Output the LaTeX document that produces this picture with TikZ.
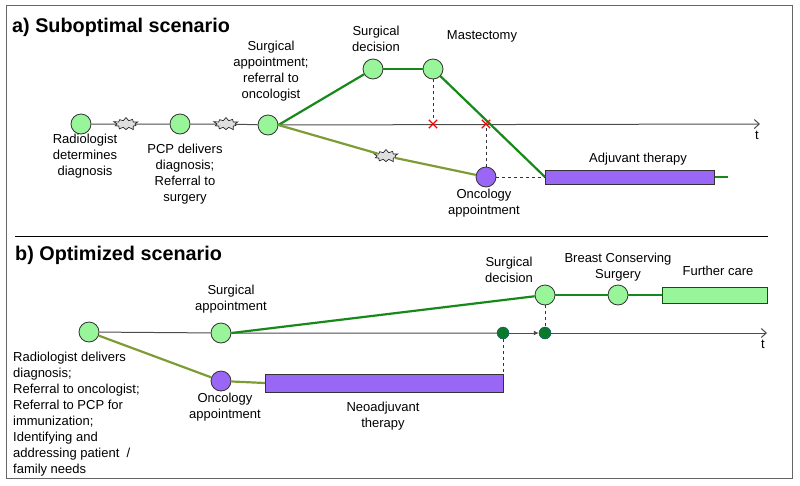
\documentclass[tikz,border=0pt]{standalone}
\usepackage{fontspec}
\setmainfont{Liberation Sans}
\usetikzlibrary{shapes.symbols,shapes.misc,arrows.meta}
\definecolor{lgreen}{HTML}{99F599}
\definecolor{dgreen}{HTML}{17891A}
\definecolor{olive}{HTML}{7E9C35}
\definecolor{purp}{HTML}{9966F5}
\definecolor{dotc}{HTML}{0A7A2A}
\begin{document}
\begin{tikzpicture}[x=1pt,y=-1pt,
  font=\fontsize{13}{16}\selectfont,
  ev/.style={circle,draw=black!80,fill=lgreen,minimum size=20pt,inner sep=0pt,line width=0.8pt},
  evp/.style={circle,draw=black!80,fill=purp,minimum size=20pt,inner sep=0pt,line width=0.8pt},
  smalldot/.style={circle,draw=blue!40!dgreen,fill=dotc,minimum size=12pt,inner sep=0pt},
  burst/.style={starburst,starburst points=10,starburst point height=4pt,draw=black!85,fill=gray!25,minimum width=26pt,minimum height=15pt,inner sep=0pt,line width=0.7pt},
  lbl/.style={align=center,inner sep=0pt},
  axis/.style={draw=black!70,line width=1pt},
  gline/.style={draw=dgreen,line width=2.2pt},
  oline/.style={draw=olive,line width=2.2pt},
  dashline/.style={draw=black!80,dashed,line width=0.8pt},
  xmark/.style={cross out,draw=red,line width=1.3pt,minimum size=7pt,inner sep=0pt},
  title/.style={font=\fontsize{19.8}{23}\selectfont\bfseries,anchor=base west,inner sep=0pt}]
\useasboundingbox (0,0) rectangle (800,485);
\draw[black!60,line width=0.8pt] (6,5) rectangle (792,478);
\draw[black,line width=0.8pt] (15,236) -- (768,236);

% ---------- a) ----------
\node[title] (ta) at (12,32) {a) Suboptimal scenario};
\coordinate (aend) at (760,124);
\node[ev] (a1) at (81,124) {};
\node[ev] (a2) at (180,124) {};
\node[ev] (a3) at (268,125) {};
\node[burst] (b1) at (126,124) {};
\node[burst] (b2) at (226,124) {};
\draw[axis] (a1) -- (b1) -- (a2) -- (b2) -- (a3);
\draw[axis,-{Straight Barb[length=5pt,width=9pt]}] (a3) -- (aend);
\node[anchor=north] (t1) at (757,128) {t};

\node[ev] (sd) at (373,69) {};
\node[ev] (ma) at (433,69) {};
\node[draw=black!80,fill=purp,minimum width=169pt,minimum height=14pt,inner sep=0pt,anchor=west,line width=0.8pt] (adj) at (545,177) {};
\coordinate (adjend) at (728,177);
\draw[gline] (a3.east) -- (sd);
\draw[gline] (sd) -- (ma);
\draw[gline] (ma) -- (adj.west);
\draw[gline] (adj.east) -- (adjend);
\node[evp] (onc) at (486,177) {};
\node[burst] (b3) at (386,156) {};
\draw[oline] (a3.east) -- (b3) -- (onc);
\node[xmark] (x1) at (433,124) {};
\node[xmark] (x2) at (486,124) {};
\draw[dashline] (ma) -- (x1);
\draw[dashline] (onc) -- (x2);
\draw[dashline] (onc) -- (adj.west);

\node[lbl,anchor=north] (l1) at (85,134) {Radiologist\\determines\\diagnosis};
\node[lbl,anchor=north] (l2) at (185,144) {PCP delivers\\diagnosis;\\Referral to\\surgery};
\node[lbl,anchor=south] (l3) at (271,101) {Surgical\\appointment;\\referral to\\oncologist};
\node[lbl,anchor=south] (l4) at (376,52) {Surgical\\decision};
\node[lbl,anchor=south] (l5) at (482,42) {Mastectomy};
\node[lbl,anchor=south] (l6) at (638,165) {Adjuvant therapy};
\node[lbl,anchor=north] (l7) at (484,189) {Oncology\\appointment};

% ---------- b) ----------
\node[title] (tb) at (15,260) {b) Optimized scenario};
\coordinate (bend) at (767,333);
\node[ev] (r1) at (89,332) {};
\node[ev] (sa) at (221,333) {};
\node[evp] (onc2) at (221,381) {};
\node[draw=black!80,fill=purp,minimum width=238pt,minimum height=18pt,inner sep=0pt,anchor=west,line width=0.8pt] (neo) at (265,383) {};
\node[ev] (sd2) at (545,295) {};
\node[ev] (bcs) at (618,295) {};
\node[draw=dgreen!60!black,fill=lgreen,minimum width=105pt,minimum height=16pt,inner sep=0pt,anchor=west,line width=0.8pt] (fc) at (662,295) {};
\node[smalldot] (d1) at (503,333) {};
\node[smalldot] (d2) at (545,333) {};
\draw[axis] (r1) -- (sa) -- (d1);
\draw[axis,-{Latex[length=5pt,width=5pt]}] (d1) -- (d2);
\draw[axis,-{Straight Barb[length=5pt,width=9pt]}] (d2) -- (bend);
\node[anchor=north] (t2) at (763,337) {t};
\draw[gline] (sa.east) -- (sd2);
\draw[gline] (sd2) -- (bcs) -- (fc.west);
\draw[oline] (r1) -- (onc2);
\draw[oline] (onc2) -- (neo.west);
\draw[dashline] (d1) -- (d1 |- neo.north);
\draw[dashline] (sd2) -- (d2);

\node[lbl,anchor=north west,align=left] (lr) at (13,352) {Radiologist delivers\\diagnosis;\\Referral to oncologist;\\Referral to PCP for\\immunization;\\Identifying and\\addressing patient~~/\\family needs};
\node[lbl,anchor=south] (ls) at (231,313) {Surgical\\appointment};
\node[lbl,anchor=north] (lo) at (225,393) {Oncology\\appointment};
\node[lbl,anchor=north] (ln) at (383,402) {Neoadjuvant\\therapy};
\node[lbl,anchor=south] (lsd) at (509,283) {Surgical\\decision};
\node[lbl,anchor=south] (lb) at (618,281) {Breast Conserving\\Surgery};
\node[lbl,anchor=south] (lf) at (718,276) {Further care};
\end{tikzpicture}
\end{document}
